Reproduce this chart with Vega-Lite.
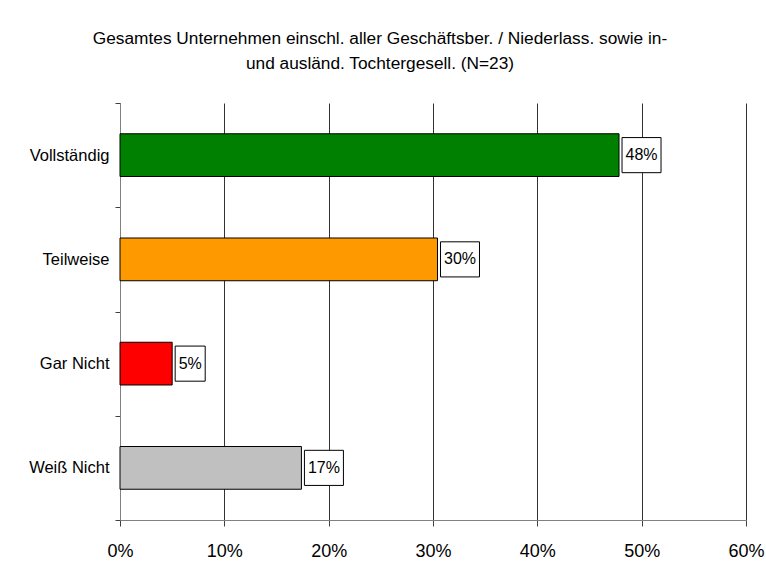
{
  "$schema": "https://vega.github.io/schema/vega-lite/v6.json",
  "width": 626,
  "height": 417,
  "autosize": {"type": "none"},
  "padding": {"left": 120, "top": 103, "right": 20, "bottom": 60},
  "background": "white",
  "title": {
    "text": ["Gesamtes Unternehmen einschl. aller Geschäftsber. /  Niederlass. sowie in-", "und ausländ. Tochtergesell. (N=23)"],
    "font": "Liberation Sans",
    "fontSize": 17.3,
    "fontWeight": "normal",
    "color": "black",
    "anchor": "middle",
    "dx": -53,
    "offset": 23,
    "lineHeight": 25
  },
  "config": {
    "view": {"stroke": null},
    "axis": {"labelFont": "Liberation Sans", "labelColor": "black"}
  },
  "data": {
    "values": [
      {"cat": "Vollständig", "value": 0.4783},
      {"cat": "Teilweise", "value": 0.3043},
      {"cat": "Gar Nicht", "value": 0.05},
      {"cat": "Weiß Nicht", "value": 0.1739}
    ]
  },
  "encoding": {
    "y": {
      "field": "cat", "type": "nominal", "sort": null,
      "scale": {"paddingInner": 0, "paddingOuter": 0},
      "axis": {"title": null, "tickBand": "extent", "tickSize": 5, "labelPadding": 6, "labelFontSize": 16.5, "domainColor": "#808080", "tickColor": "#404040", "grid": false}
    },
    "x": {
      "field": "value", "type": "quantitative",
      "scale": {"domain": [0, 0.6], "nice": false},
      "axis": {"title": null, "format": ".0%", "values": [0, 0.1, 0.2, 0.3, 0.4, 0.5, 0.6], "grid": true, "gridColor": "#333333", "gridOpacity": 1, "domainColor": "#808080", "tickColor": "#404040", "tickSize": 6, "labelPadding": 16, "labelFontSize": 18, "labelFlush": false}
    }
  },
  "layer": [
    {
      "mark": {"type": "bar", "stroke": "black", "strokeWidth": 1, "height": {"band": 0.41}},
      "encoding": {
        "color": {
          "field": "cat", "type": "nominal", "legend": null,
          "scale": {"domain": ["Vollständig", "Teilweise", "Gar Nicht", "Weiß Nicht"], "range": ["#008000", "#FF9900", "#FF0000", "#C0C0C0"]}
        }
      }
    },
    {
      "mark": {"type": "point", "filled": true, "fill": "white", "stroke": "black", "strokeWidth": 1, "opacity": 1, "size": 1521, "xOffset": 3},
      "encoding": {
        "shape": {
          "condition": {"test": "datum.value < 0.1", "value": "M0,-0.9 L1.54,-0.9 L1.54,0.9 L0,0.9 Z"},
          "value": "M0,-0.9 L2,-0.9 L2,0.9 L0,0.9 Z"
        }
      }
    },
    {
      "mark": {"type": "text", "align": "left", "baseline": "middle", "dx": 6.5, "font": "Liberation Sans", "fontSize": 16, "color": "black"},
      "encoding": {
        "text": {"field": "value", "type": "quantitative", "format": ".0%"}
      }
    }
  ]
}
